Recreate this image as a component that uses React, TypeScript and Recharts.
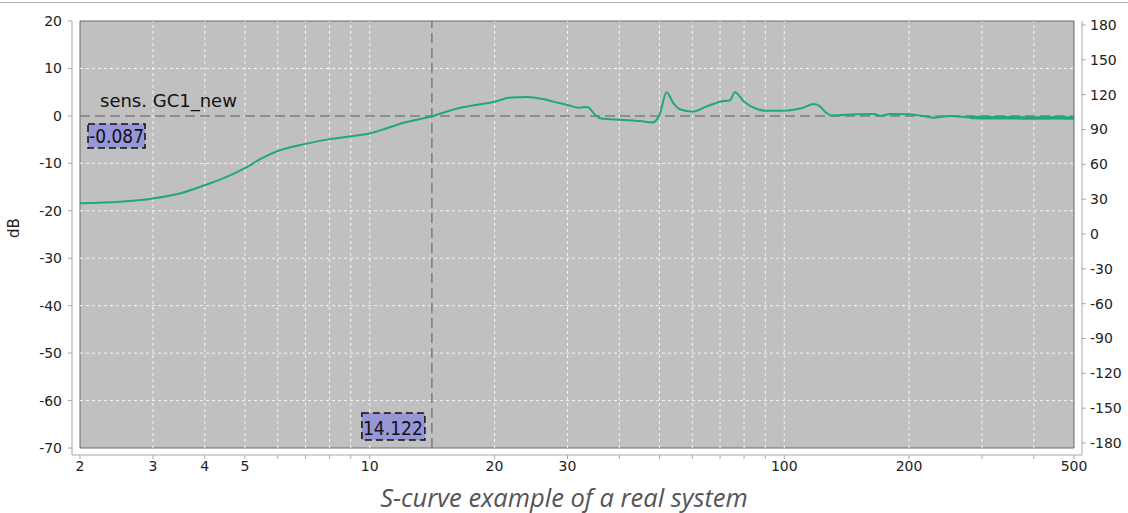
import React from 'react'
import {
  LineChart,
  Line,
  XAxis,
  YAxis,
  ReferenceArea,
  ReferenceLine,
} from 'recharts'

// sensitivity curve
const freqs = [
  2, 2.5, 3, 3.5, 4, 4.5, 5, 5.5, 6, 7, 8, 9, 10, 11, 12, 14.122, 16, 18, 20, 22,
  24, 26, 28, 30, 32, 33.5, 35, 36, 38, 40, 45, 48, 50, 52, 54, 56, 60, 65, 70,
  74, 76, 80, 85, 90, 100, 110, 118, 122, 126, 130, 150, 165, 170, 180, 200, 220,
  230, 250, 280, 300, 350, 400, 450, 500,
]
const sensDb = [
  -18.4, -18.1, -17.4, -16.3, -14.6, -12.9, -11.0, -8.9, -7.4, -5.9, -4.9, -4.3,
  -3.7, -2.6, -1.5, -0.087, 1.4, 2.3, 3.0, 3.9, 4.0, 3.6, 2.9, 2.3, 1.7, 1.9, 0.2,
  -0.5, -0.7, -0.8, -1.1, -1.4, 0.2, 5.0, 2.7, 1.4, 0.9, 2.0, 3.0, 3.3, 5.0, 3.0,
  1.6, 1.1, 1.1, 1.6, 2.5, 2.0, 0.7, 0.1, 0.35, 0.4, 0.0, 0.4, 0.35, -0.15, -0.4,
  0.0, -0.3, -0.4, -0.4, -0.45, -0.4, -0.45,
]

const xTicks = [2, 3, 4, 5, 6, 7, 8, 9, 10, 20, 30, 40, 50, 60, 70, 80, 90, 100, 200, 300, 400, 500]
const xLabeled = [2, 3, 4, 5, 10, 20, 30, 100, 200, 500]
const xGrid = [3, 4, 5, 6, 7, 8, 9, 10, 20, 30, 40, 50, 60, 70, 80, 90, 100, 200, 300, 400]
const dbTicks = [20, 10, 0, -10, -20, -30, -40, -50, -60, -70]
const dbGrid = [10, -10, -20, -30, -40, -50, -60]
const phaseTicks = [180, 150, 120, 90, 60, 30, 0, -30, -60, -90, -120, -150, -180]

const cursorFreq = 14.122
const cursorDb = -0.087
const seriesName = 'sens. GC1_new'

const data = freqs.map((f, i) => ({
  f,
  db: sensDb[i],
  tail: f >= 280 ? sensDb[i] : null,
}))

const font = '"DejaVu Sans", Verdana, sans-serif'
const tickStyle = { fontSize: 14, fill: '#222', fontFamily: font }
const axisGray = '#a8a8a8'

function ValueBox({ x, y, w, h, text, textW }: { x: number; y: number; w: number; h: number; text: string; textW: number }) {
  return (
    <g>
      <rect x={x} y={y} width={w} height={h} fill="#9797d8" stroke="#111" strokeDasharray="7 4" strokeWidth={1.5} />
      <text
        x={x + 1}
        y={y + h - 5}
        fontSize={20}
        fontFamily={font}
        fill="#111"
        textLength={textW}
        lengthAdjust="spacingAndGlyphs"
      >
        {text}
      </text>
    </g>
  )
}

function ZeroLabel(props: any) {
  const { x, y } = props.viewBox
  return (
    <g>
      <text x={x + 20} y={y - 9} fontSize={18} fontFamily={font} fill="#111">
        {seriesName}
      </text>
      <ValueBox x={x + 8} y={y + 8} w={57} h={24} textW={55} text={cursorDb.toFixed(3)} />
    </g>
  )
}

function FreqLabel(props: any) {
  const { x, y, height } = props.viewBox
  return <ValueBox x={x - 70} y={y + height - 35} w={63} h={27} textW={60} text={cursorFreq.toFixed(3)} />
}

export default function App() {
  return (
    <div style={{ position: 'relative', width: 1128, height: 513, background: '#fff', overflow: 'hidden' }}>
      <style>{'body{margin:0}'}</style>
      <div style={{ position: 'absolute', left: 0, top: 2, width: 1128, height: 1, background: '#b4b4b4' }} />
      <div style={{ position: 'absolute', left: 0, top: 0 }}>
        <LineChart width={1128} height={482} data={data} margin={{ top: 21, right: 0, bottom: 0, left: 0 }}>
          <XAxis
            dataKey="f"
            type="number"
            scale="log"
            domain={[1.913, 522.7]}
            allowDataOverflow
            ticks={xTicks}
            interval={0}
            tickFormatter={(v: number) => (xLabeled.includes(v) ? String(v) : '')}
            height={27}
            tickSize={4}
            tickMargin={2}
            stroke={axisGray}
            tick={tickStyle}
          />
          <YAxis
            yAxisId="left"
            domain={[-71.475, 20]}
            allowDataOverflow
            ticks={dbTicks}
            interval={0}
            width={72}
            tickSize={4}
            tickMargin={6}
            stroke={axisGray}
            tick={tickStyle}
            label={{ value: 'dB', angle: -90, position: 'insideLeft', offset: 14, style: { fontSize: 15, fill: '#222', fontFamily: font } }}
          />
          <YAxis
            yAxisId="right"
            orientation="right"
            domain={[-190.33, 183.44]}
            allowDataOverflow
            ticks={phaseTicks}
            interval={0}
            width={46}
            tickSize={4}
            tickMargin={4}
            stroke={axisGray}
            tick={{ ...tickStyle, textAnchor: 'start' }}
          />
          <ReferenceArea yAxisId="left" x1={2} x2={500} y1={-70} y2={20} fill="#c0c0c0" fillOpacity={1} stroke="none" />
          {xGrid.map((g) => (
            <ReferenceLine
              key={'gx' + g}
              yAxisId="left"
              segment={[{ x: g, y: -70 }, { x: g, y: 20 }]}
              stroke="#f4f4f4"
              strokeDasharray="3 3"
            />
          ))}
          {dbGrid.map((g) => (
            <ReferenceLine
              key={'gy' + g}
              yAxisId="left"
              segment={[{ x: 2, y: g }, { x: 500, y: g }]}
              stroke="#f4f4f4"
              strokeDasharray="3 3"
            />
          ))}
          <ReferenceLine
            yAxisId="left"
            segment={[{ x: 2, y: 0 }, { x: 500, y: 0 }]}
            stroke="#7c7c7c"
            strokeWidth={1.5}
            strokeDasharray="10 5"
            label={<ZeroLabel />}
          />
          <ReferenceLine
            yAxisId="left"
            segment={[{ x: cursorFreq, y: -70 }, { x: cursorFreq, y: 20 }]}
            stroke="#7c7c7c"
            strokeWidth={1.5}
            strokeDasharray="10 5"
            label={<FreqLabel />}
          />
          <Line
            yAxisId="left"
            type="monotone"
            dataKey="db"
            stroke="#1fa77e"
            strokeWidth={2}
            dot={false}
            isAnimationActive={false}
          />
          <Line
            yAxisId="left"
            type="monotone"
            dataKey="tail"
            stroke="#1fa77e"
            strokeWidth={3.5}
            dot={false}
            connectNulls={false}
            isAnimationActive={false}
          />
          <ReferenceArea yAxisId="left" x1={2} x2={500} y1={-70} y2={20} fill="none" stroke="#6a6a6a" strokeWidth={1} />
        </LineChart>
      </div>
      <div
        style={{
          position: 'absolute',
          left: 0,
          top: 481,
          width: 1128,
          textAlign: 'center',
          fontFamily: '"Open Sans", sans-serif',
          fontStyle: 'italic',
          fontSize: 25.5,
          lineHeight: '32px',
          color: '#555',
        }}
      >
        S-curve example of a real system
      </div>
    </div>
  )
}
